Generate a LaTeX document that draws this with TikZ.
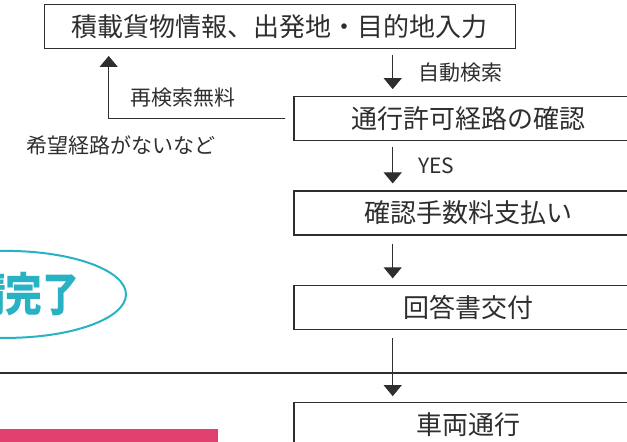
\documentclass[tikz,border=0pt]{standalone}
\usepackage{fontspec}
\setmainfont{Noto Sans CJK JP}
\usepackage{tikz}
\usetikzlibrary{positioning,shapes.geometric,arrows.meta}
\definecolor{ink}{HTML}{2E2E2E}
\definecolor{donecol}{HTML}{29B1C4}
\definecolor{barcol}{HTML}{E1416F}
\tikzset{
  box/.style={draw=ink,line width=1.1pt,minimum height=44pt,inner sep=0pt,
    text=ink,font=\fontsize{26}{30}\selectfont},
  flow/.style={draw=ink,line width=0.9pt,-{Triangle[width=18pt,length=11pt]},
    shorten <=6pt,shorten >=7pt},
  note/.style={inner sep=0pt,text=ink,font=\fontsize{21}{25}\selectfont}
}

\begin{document}
\begin{tikzpicture}[x=1pt,y=-1pt]
    \useasboundingbox (0,0) rectangle (627,442);
    \clip (0,0) rectangle (627,442);
    \fill [barcol] (0,429.3) rectangle (217.7,446);
    \draw [ink,line width=2.2pt] (0,372.7) -- (627,372.7);
    \node (input) [box,minimum width=470.3pt] at (279.9,26.4) {積載貨物情報、出発地・目的地入力};
    \node (check) [box,minimum width=349pt] at (468.5,118.7) {通行許可経路の確認};
    \node (fee) [box,minimum width=349pt] at (468.5,213) {確認手数料支払い};
    \node (reply) [box,minimum width=349pt] at (468.5,307.9) {回答書交付};
    \node (drive) [box,minimum width=349pt] at (468.5,424.7) {車両通行};
    \node (done) [ellipse,draw=donecol,line width=2pt,minimum width=240pt,
      minimum height=87pt,inner sep=0pt,text=donecol,
      font=\fontsize{46}{50}\selectfont\bfseries] at (6,294.4) {\scalebox{0.8}[1]{申請完了}};
    \coordinate (down) at (392.7,0);
    \coordinate (back) at (108.7,0);
    \draw [flow] (input.south -| down) -- node [note,right=25pt] {自動検索} (check.north -| down);
    \draw [flow] (check.south -| down) -- node [note,right=25pt] {YES} (fee.north -| down);
    \draw [flow,shorten <=8pt] (fee.south -| down) -- (reply.north -| down);
    \draw [flow,shorten <=8pt,shorten >=6pt] (reply.south -| down) -- (drive.north -| down);
    \draw [flow,shorten <=8pt] (check.west) -| (back |- input.south);
    \node (again) [note] at (183,98) {再検索無料};
    \node (nohope) [note] at (121.5,145) {希望経路がないなど};
  \end{tikzpicture}
\end{document}
